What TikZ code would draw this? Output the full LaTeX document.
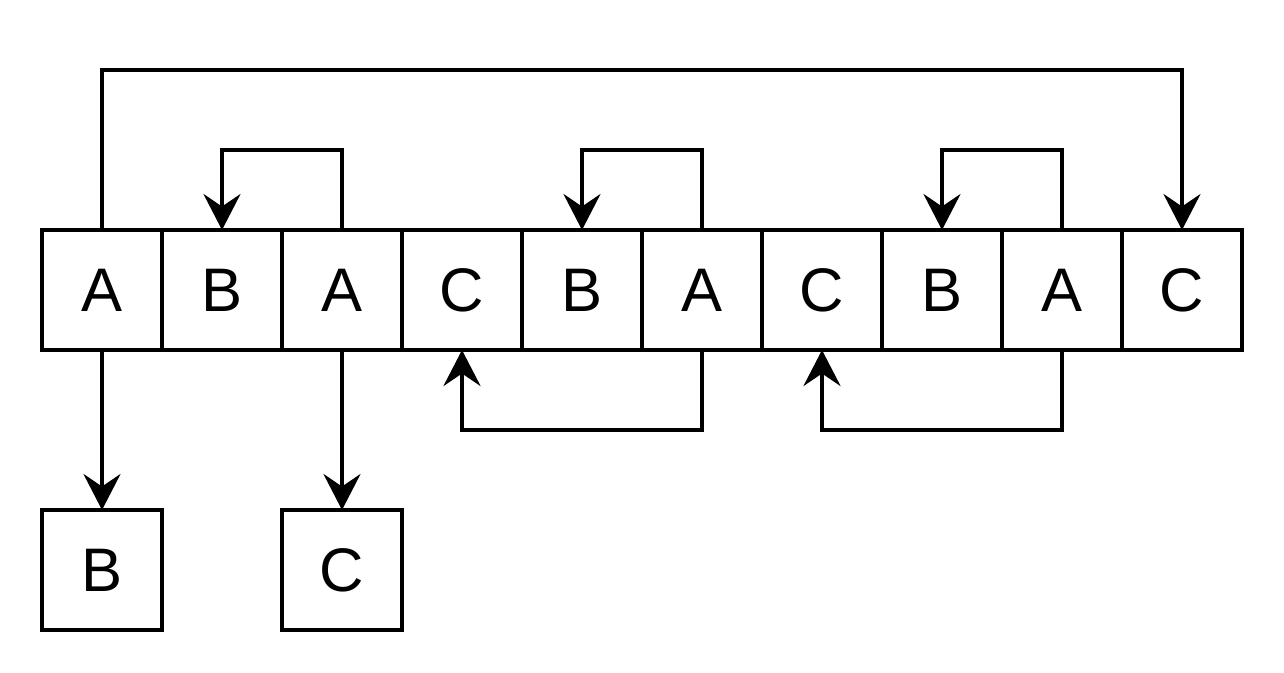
\documentclass[tikz,border=0pt]{standalone}
\usepackage{fontspec}
\setmainfont{Liberation Sans}
\usetikzlibrary{positioning,arrows.meta}
\begin{document}
\begin{tikzpicture}[node distance=0pt, line width=0.075cm,
    cell/.style={draw, minimum size=2.4cm, inner sep=0pt, outer sep=0pt, font=\fontsize{35}{40}\selectfont},
    >={Stealth[length=0.72cm,width=0.74cm,inset=0.25cm]}]
    \useasboundingbox (0,0) rectangle (25.68,-13.44);
    \node[cell] (a1) at (2.04,-5.8) {A};
    \node[cell] (b2) [right=of a1] {B};
    \node[cell] (a3) [right=of b2] {A};
    \node[cell] (c4) [right=of a3] {C};
    \node[cell] (b5) [right=of c4] {B};
    \node[cell] (a6) [right=of b5] {A};
    \node[cell] (c7) [right=of a6] {C};
    \node[cell] (b8) [right=of c7] {B};
    \node[cell] (a9) [right=of b8] {A};
    \node[cell] (c10) [right=of a9] {C};
    % boxes below
    \node[cell] (outb) [below=3.2cm of a1] {B};
    \node[cell] (outc) [below=3.2cm of a3] {C};

    \draw[->] (a1.north) -- ++(0,3.2) -| (c10.north);
    \draw[->] (a3.north) -- ++(0,1.6) -| (b2.north);
    \draw[->] (a6.north) -- ++(0,1.6) -| (b5.north);
    \draw[->] (a9.north) -- ++(0,1.6) -| (b8.north);

    \draw[->] (a6.south) -- ++(0,-1.6) -| (c4.south);
    \draw[->] (a9.south) -- ++(0,-1.6) -| (c7.south);
    \draw[->] (a1.south) -- (outb.north);
    \draw[->] (a3.south) -- (outc.north);
  \end{tikzpicture}
\end{document}
